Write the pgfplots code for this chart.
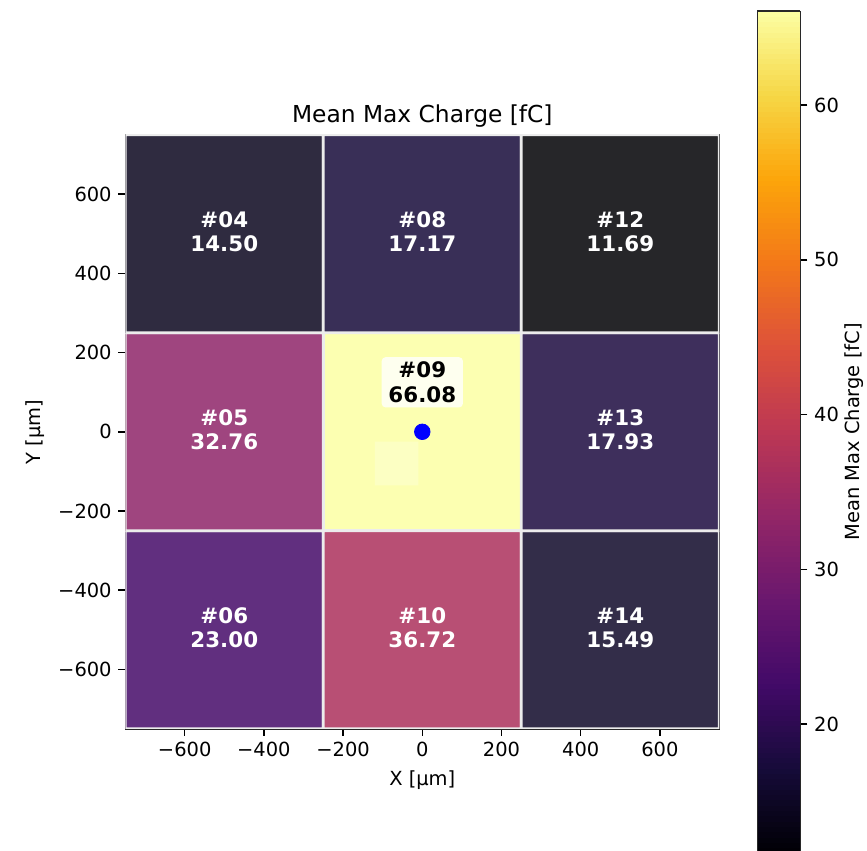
\documentclass[border=0pt]{standalone}
\usepackage{pgfplots}
\pgfplotsset{compat=1.18}
\usepackage{fontspec}
\setmainfont{DejaVu Sans}
\pgfplotsset{colormap={inferno}{rgb255=(0,0,4) rgb255=(22,11,57) rgb255=(66,10,104) rgb255=(106,23,110) rgb255=(147,38,103) rgb255=(188,55,84) rgb255=(221,81,58) rgb255=(243,120,25) rgb255=(252,165,10) rgb255=(246,215,70) rgb255=(252,255,164)}}
\definecolor{edgegray}{RGB}{236,236,236}
\definecolor{spine}{RGB}{40,40,40}
\begin{document}
\begin{tikzpicture}
\begin{axis}[
  at={(64.44pt,62.33pt)}, anchor=south west,
  scale only axis, width=305.49pt, height=305.49pt,
  xmin=-750, xmax=750, ymin=-750, ymax=750,
  colormap name=inferno,
  point meta min=11.69, point meta max=66.08,
  axis line style={spine, line width=0.8pt},
  tick align=outside, major tick length=3.5pt,
  tick style={black, line width=0.8pt},
  xtick pos=bottom, ytick pos=left,
  xtick={-600,-400,-200,0,200,400,600},
  xticklabels={−600,−400,−200,0,200,400,600},
  ytick={-600,-400,-200,0,200,400,600},
  yticklabels={−600,−400,−200,0,200,400,600},
  ticklabel style={font=\fontsize{10}{12}\selectfont},
  xlabel={X [µm]}, ylabel={Y [µm]},
  label style={font=\fontsize{10}{12}\selectfont},
  title={Mean Max Charge [fC]},
  title style={font=\fontsize{12}{14}\selectfont, yshift=-5.5pt},
  colorbar sampled,
  colorbar style={
    samples=160,
    at={(parent axis.north east)}, anchor=north west,
    xshift=11.1pt, yshift=63.72pt,
    scale only axis, width=22.1pt, height=433pt,
    ytick={20,30,40,50,60},
    yticklabels={20,30,40,50,60},
    ytick pos=right,
    yticklabel pos=right,
    tick align=outside, major tick length=3.5pt,
    tick style={black, line width=0.8pt},
    ticklabel style={font=\fontsize{10}{12}\selectfont},
    axis line style={spine, line width=0.8pt},
    ylabel={Mean Max Charge [fC]},
    ylabel shift=-4pt,
    ylabel style={font=\fontsize{10}{12}\selectfont},
  },
]
\addplot[matrix plot*, shader=faceted, faceted color=edgegray, line width=1.4pt,
  fill opacity=0.85, point meta=explicit, mesh/cols=3] table[meta=c] {
x y c
-500 -500 23.00
0 -500 36.72
500 -500 15.49
-500 0 32.76
0 0 66.08
500 0 17.93
-500 500 14.50
0 500 17.17
500 500 11.69
};
\addplot[fill=white, fill opacity=0.25, draw=none] coordinates {(-120,-135) (-10,-135) (-10,-25) (-120,-25) (-120,-135)};
\addplot[only marks, mark=*, mark size=4pt, color={rgb,255:red,0;green,0;blue,255}] coordinates {(0,0)};
\begin{scope}[every node/.style={font=\fontsize{11}{12.5}\selectfont\bfseries, align=center}]
\node[text=white] at (axis cs:-500,505) {\#04\\14.50};
\node[text=white] at (axis cs:0,505) {\#08\\17.17};
\node[text=white] at (axis cs:500,505) {\#12\\11.69};
\node[text=white] at (axis cs:-500,5) {\#05\\32.76};
\node[text=white] at (axis cs:500,5) {\#13\\17.93};
\node[text=white] at (axis cs:-500,-495) {\#06\\23.00};
\node[text=white] at (axis cs:0,-495) {\#10\\36.72};
\node[text=white] at (axis cs:500,-495) {\#14\\15.49};
\node[text=black, fill=white, fill opacity=0.8, text opacity=1, rounded corners=2pt, inner xsep=3.5pt, inner ysep=2.5pt] at (axis cs:0,125) {\#09\\66.08};
\end{scope}
\end{axis}
\pgfresetboundingbox
\path[use as bounding box] (0,0) rectangle (445.89pt,437.14pt);
\end{tikzpicture}
\end{document}
